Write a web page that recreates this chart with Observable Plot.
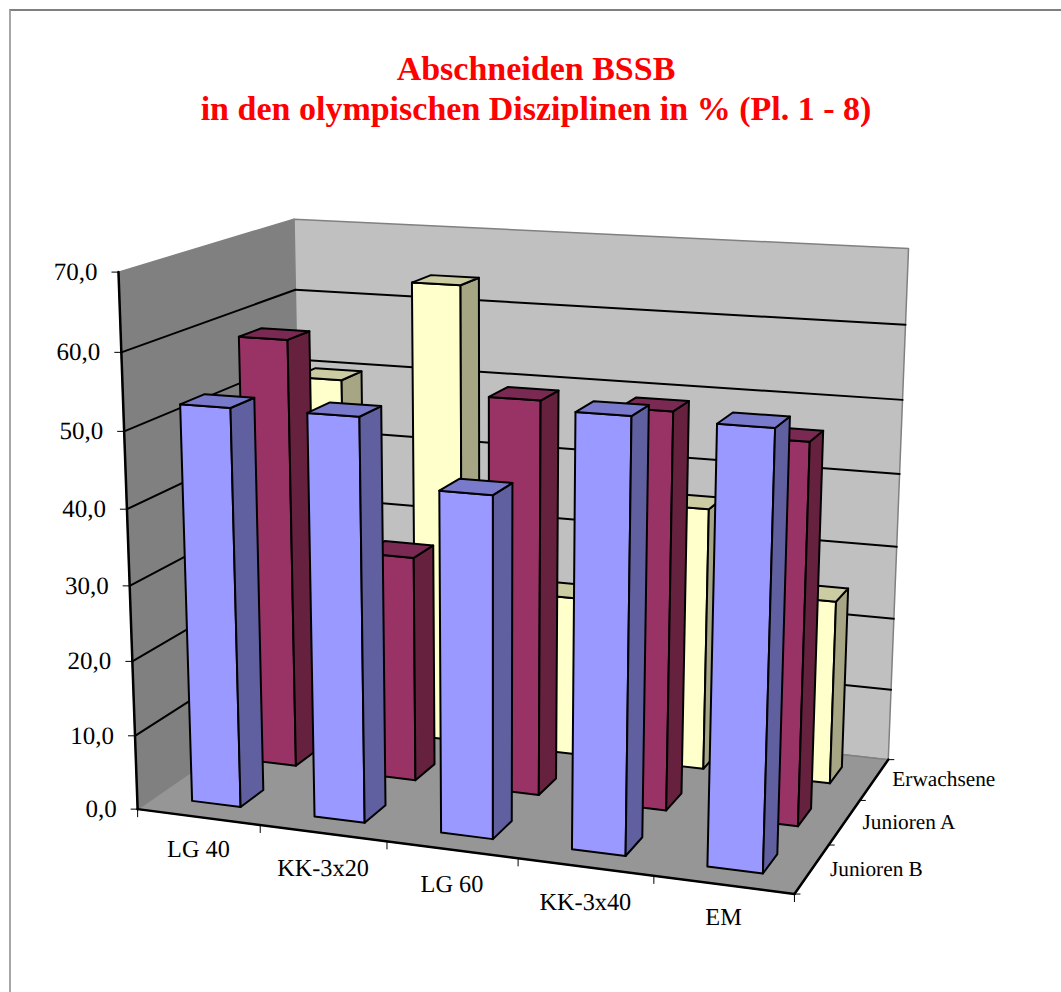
<!DOCTYPE html>
<html><head><meta charset="utf-8">
<script src="https://cdn.jsdelivr.net/npm/d3@7"></script>
<script src="https://cdn.jsdelivr.net/npm/@observablehq/plot@0.6"></script>
<style>
html,body{margin:0;padding:0;background:#fff;overflow:hidden}
#frame{position:absolute;left:9px;top:9px;width:1060px;height:990px;border-top:2px solid #808080;border-left:2px solid #a6a6a6;box-sizing:border-box;pointer-events:none}
#title{height:130px;box-sizing:border-box;padding-top:49px;text-align:center;width:1072px;color:#f00;font:bold 34px/40px "Liberation Serif",serif}
svg{display:block;text-rendering:geometricPrecision}
</style></head><body>
<div id="frame"></div>
<div id="title">Abschneiden BSSB<br>in den olympischen Disziplinen in % (Pl. 1 - 8)</div>
<div id="chart"></div>
<script>
const categories = ["LG 40","KK-3x20","LG 60","KK-3x40","EM"];
const seriesNames = ["Junioren B","Junioren A","Erwachsene"];
const juniorenB = [52.8, 52.9, 44.4, 55.4, 55.2];
const juniorenA = [58.5, 30.7, 52.8, 52.6, 50];
const erwachsene = [50, 64, 22.2, 36.1, 25.1];
const valueTicks = [0,10,20,30,40,50,60,70];

// reference points of the 3D box: [u, v, value] -> picture position
const anchors = [
 [0,0,0,138,807],[0,0,10,135,734],[0,0,50,124,431],[0,0,60,120,352],[0,0,70,117,272],
 [0,1,70,295,218],[0,1,60,295,289],[0,1,0,301,697],
 [1,1,70,908,249],[1,1,60,905,323],[1,1,50,902,400],[1,1,40,899,474],[1,1,30,896,547],[1,1,20,893,618],[1,1,10,890,688],[1,1,0,889,757],
 [1,0,0,794,896]
];
function fit(){
  const A=[],b=[];
  for(const [u,v,h0,X0,Y0] of anchors){const h=h0/70,X=X0/1000,Y=Y0/1000;
    A.push([u,v,h,1,0,0,0,0,-X*u,-X*v,-X*h]);b.push(X);
    A.push([0,0,0,0,u,v,h,1,-Y*u,-Y*v,-Y*h]);b.push(Y);}
  const n=11,M=Array.from({length:n},(_,i)=>{const r=Array(n+1).fill(0);
    A.forEach((a,k)=>{for(let j=0;j<n;j++)r[j]+=a[i]*a[j];r[n]+=a[i]*b[k];});return r;});
  for(let i=0;i<n;i++){let p=i;for(let k=i+1;k<n;k++)if(Math.abs(M[k][i])>Math.abs(M[p][i]))p=k;
    [M[i],M[p]]=[M[p],M[i]];
    for(let k=0;k<n;k++)if(k!==i){const f=M[k][i]/M[i][i];for(let j=i;j<=n;j++)M[k][j]-=f*M[i][j];}}
  return M.map((r,i)=>r[n]/r[i]);
}
const P=fit();
function proj(u,v,val){const h=val/70,w=P[8]*u+P[9]*v+P[10]*h+1;
  return [1000*(P[0]*u+P[1]*v+P[2]*h+P[3])/w,1000*(P[4]*u+P[5]*v+P[6]*h+P[7])/w];}

const polys=[];let pid=0;
function poly(pts,fill,stroke){const id=pid++;for(const [u,v,h] of pts){const [x,y]=proj(u,v,h);polys.push({id,x,y,fill,stroke});}}

// walls and floor
poly([[0,0,0],[0,1,0],[0,1,70],[0,0,70]],"#808080","#808080");
poly([[0,1,0],[1,1,0],[1,1,70],[0,1,70]],"#c0c0c0","#808080");
poly([[0,0,0],[1,0,0],[1,1,0],[0,1,0]],"#969696","#808080");

// gridlines and axis lines
const lines=[];let lid=0;
function seg(a,b,w=2,c="#000"){const id=lid++;for(const p of [a,b]){const [x,y]=proj(...p);lines.push({id,x,y,w,c});}}
for(const t of valueTicks.slice(1,-1)){seg([0,0,t],[0,1,t]);seg([0,1,t],[1,1,t]);}
seg([0,0,0],[0,0,70],2.5);
seg([0,0,0],[1,0,0],2.5);
seg([1,0,0],[1,1,0],2.5);

// bars: back row first
const rows=[[erwachsene,2,"#ffffcc","#cccca3","#a6a685"],[juniorenA,1,"#993366","#7a2952","#66213f"],[juniorenB,0,"#9999ff","#7a7acc","#6060a0"]];
const gapU=.3, gapV=.3;
for(const [vals,r,face,top,side] of rows){
  vals.forEach((val,i)=>{
    const u0=(i+gapU)/5,u1=(i+1-gapU)/5,v0=(r+gapV)/3,v1=(r+1-gapV)/3;
    poly([[u0,v0,0],[u1,v0,0],[u1,v0,val],[u0,v0,val]],face,"#000");
    poly([[u1,v0,0],[u1,v1,0],[u1,v1,val],[u1,v0,val]],side,"#000");
    poly([[u0,v0,val],[u1,v0,val],[u1,v1,val],[u0,v1,val]],top,"#000");
  });
}

// ticks and labels, offset in picture pixels from the projected axis
const yTickRows=valueTicks.map(t=>{const [x,y]=proj(0,0,t);return {label:t.toFixed(1).replace(".",","),x,y};});
const xTickRows=d3.range(6).map(i=>{const [x,y]=proj(i/5,0,0);return {x,y};});
const zTickRows=d3.range(4).map(i=>{const [x,y]=proj(1,i/3,0);return {x,y};});
const catNudgeY=[32,35,34,35,32];
const catRows=categories.map((c,i)=>{const [x,y]=proj((i+.5)/5,0,0);return {label:c,x,y:y+catNudgeY[i]};});
const serRows=seriesNames.map((s,i)=>{const [x,y]=proj(1,(i+.5)/3,0);return {label:s,x:x+18,y};});

const font='"Liberation Serif",serif';
const chart=Plot.plot({
  width:1061,height:862,margin:0,
  x:{domain:[0,1061],range:[0,1061],axis:null},
  y:{domain:[130,992],range:[0,862],axis:null},
  color:{type:"identity"},
  marks:[
    Plot.line(polys.filter(d=>d.id<3),{x:"x",y:"y",z:"id",fill:"fill",stroke:"stroke",strokeWidth:1.5,curve:"linear-closed"}),
    Plot.line(lines,{x:"x",y:"y",z:"id",stroke:"c",strokeWidth:"w"}),
    Plot.link(yTickRows,{x1:d=>d.x-7,x2:"x",y1:"y",y2:"y",stroke:"#000",strokeWidth:1}),
    Plot.link(xTickRows,{x1:"x",x2:"x",y1:"y",y2:d=>d.y+8,stroke:"#000",strokeWidth:1}),
    Plot.link(zTickRows,{x1:"x",x2:d=>d.x+6,y1:"y",y2:"y",stroke:"#000",strokeWidth:1}),
    Plot.line(polys.filter(d=>d.id>=3),{x:"x",y:"y",z:"id",fill:"fill",stroke:"stroke",strokeWidth:2,strokeLinejoin:"round",curve:"linear-closed"}),
    Plot.text(yTickRows,{x:"x",y:"y",text:"label",dx:-21,textAnchor:"end",fontFamily:font,fontSize:25,fill:"#000"}),
    Plot.text(catRows,{x:"x",y:"y",text:"label",fontFamily:font,fontSize:24.3,fill:"#000"}),
    Plot.text(serRows,{x:"x",y:"y",text:"label",textAnchor:"start",fontFamily:font,fontSize:21.3,fill:"#000"})
  ]
});
document.getElementById("chart").appendChild(chart);
</script>
</body></html>
